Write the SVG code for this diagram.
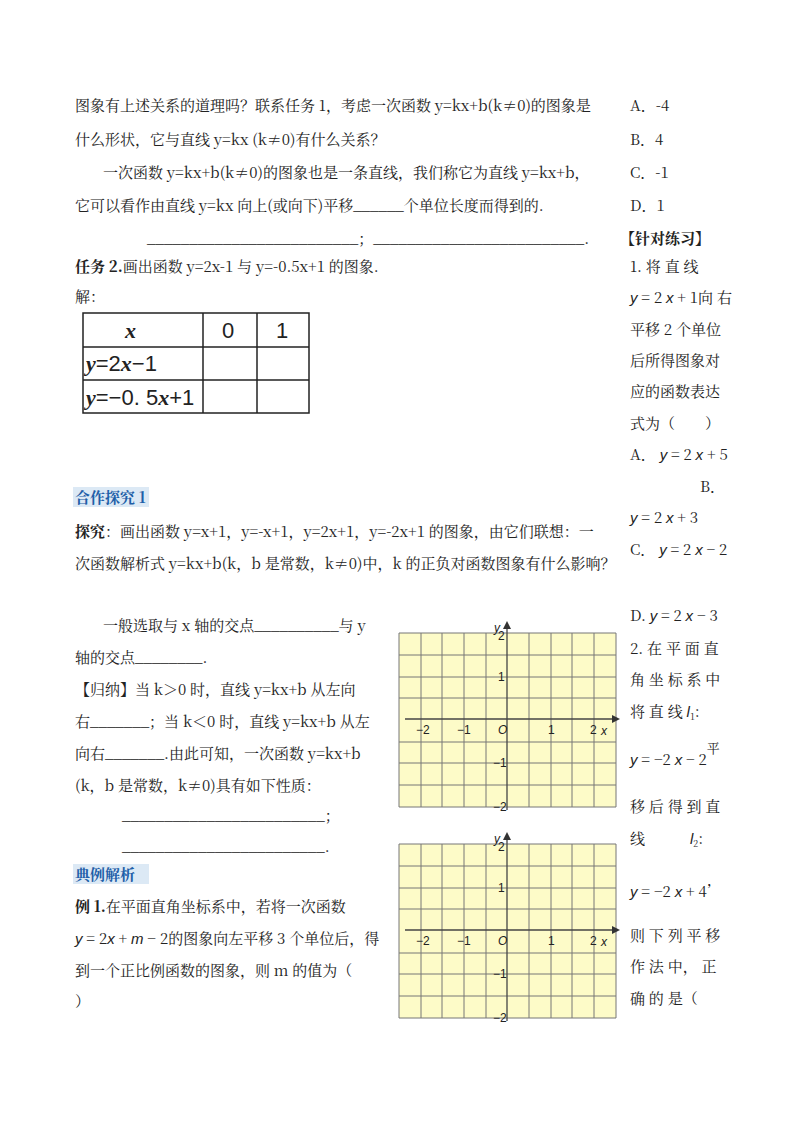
<svg xmlns="http://www.w3.org/2000/svg" width="800" height="1132" viewBox="0 0 800 1132">
<style>
text{font-family:"Noto Serif CJK SC","Noto Sans CJK SC",serif;font-size:15px;fill:#222}
.b{font-weight:bold}
.h{font-weight:bold;fill:#1f5fa8}
.m{font-family:"Liberation Serif",serif;font-style:italic;font-weight:bold;font-size:22px}
.n{font-family:"Liberation Sans",sans-serif;font-style:normal;font-weight:normal;font-size:22px}
.mi{font-family:"Liberation Sans",sans-serif;font-style:italic}
.g{stroke:#777;stroke-width:1}
.ax{font-family:"Liberation Sans",sans-serif;font-size:12px}
</style>
<rect width="800" height="1132" fill="#fff"/>
<text x="75" y="111">图象有上述关系的道理吗？联系任务 1，考虑一次函数 y=kx+b(k≠0)的图象是</text>
<text x="75" y="145">什么形状，它与直线 y=kx  (k≠0)有什么关系？</text>
<text x="103" y="178">一次函数 y=kx+b(k≠0)的图象也是一条直线，我们称它为直线 y=kx+b，</text>
<text x="75" y="211">它可以看作由直线 y=kx 向上(或向下)平移______个单位长度而得到的.</text>
<text x="147" y="244">_________________________；_________________________.</text>
<text x="630" y="111">A．-4</text><text x="630" y="145">B．4</text><text x="630" y="178">C．-1</text><text x="630" y="211">D．1</text>
<text x="620" y="244" class="b">【针对练习】</text>
<text x="75" y="272"><tspan class="b">任务 2.</tspan>画出函数 y=2x-1 与 y=-0.5x+1 的图象.</text>
<text x="75" y="302">解：</text>
<g fill="none" stroke="#222" stroke-width="1.5">
<rect x="83" y="313" width="226" height="100"/>
<line x1="83" y1="347" x2="309" y2="347"/><line x1="83" y1="380" x2="309" y2="380"/>
<line x1="203" y1="313" x2="203" y2="413"/><line x1="257" y1="313" x2="257" y2="413"/>
</g>
<text x="125" y="338" class="m">x</text>
<text x="222" y="338" class="n">0</text>
<text x="276" y="338" class="n">1</text>
<text x="86" y="371" class="m">y<tspan class="n">=2</tspan>x<tspan class="n">−1</tspan></text>
<text x="86" y="405" class="m">y<tspan class="n">=−0. 5</tspan>x<tspan class="n">+1</tspan></text>
<rect x="73" y="487" width="76" height="20" fill="#dce9f5"/>
<text x="75" y="503" class="h">合作探究 1</text>
<text x="75" y="537"><tspan class="b">探究</tspan>：画出函数 y=x+1，y=-x+1，y=2x+1，y=-2x+1 的图象，由它们联想：一</text>
<text x="75" y="569">次函数解析式 y=kx+b(k，b 是常数，k≠0)中，k 的正负对函数图象有什么影响？</text>
<text x="103" y="631">一般选取与 x 轴的交点__________与 y</text>
<text x="75" y="663">轴的交点________.</text>
<text x="75" y="695">【归纳】当 k＞0 时，直线 y=kx+b 从左向</text>
<text x="75" y="727">右_______；当 k＜0 时，直线 y=kx+b 从左</text>
<text x="75" y="759">向右_______.由此可知，一次函数 y=kx+b</text>
<text x="75" y="791">(k，b 是常数，k≠0)具有如下性质：</text>
<text x="122" y="821">________________________；</text>
<text x="122" y="852">________________________.</text>
<rect x="73" y="864" width="76" height="20" fill="#dce9f5"/>
<text x="75" y="880" class="h">典例解析</text>
<text x="75" y="912"><tspan class="b">例 1.</tspan>在平面直角坐标系中，若将一次函数</text>
<text x="75" y="944"><tspan class="mi">y</tspan> = 2<tspan class="mi">x</tspan> + <tspan class="mi">m</tspan> − 2的图象向左平移 3 个单位后，得</text>
<text x="75" y="976">到一个正比例函数的图象，则 m 的值为（</text>
<text x="75" y="1007">）</text>
<text x="630" y="272">1. 将 直 线</text>
<text x="630" y="303"><tspan class="mi">y</tspan> = 2 <tspan class="mi">x</tspan> + 1向 右</text>
<text x="630" y="335">平移 2 个单位</text>
<text x="630" y="366">后所得图象对</text>
<text x="630" y="397">应的函数表达</text>
<text x="630" y="429">式为（　　）</text>
<text x="630" y="460">A．  <tspan class="mi">y</tspan> = 2 <tspan class="mi">x</tspan> + 5</text>
<text x="700" y="492">B．</text>
<text x="630" y="523"><tspan class="mi">y</tspan> = 2 <tspan class="mi">x</tspan> + 3</text>
<text x="630" y="555">C．  <tspan class="mi">y</tspan> = 2 <tspan class="mi">x</tspan> − 2</text>
<text x="630" y="621">D. <tspan class="mi">y</tspan> = 2 <tspan class="mi">x</tspan> − 3</text>
<text x="630" y="654">2. 在 平 面 直</text>
<text x="630" y="685">角 坐 标 系 中</text>
<text x="630" y="717">将 直 线 <tspan class="mi">l</tspan><tspan font-size="9" dy="3">1</tspan><tspan dy="-3">:</tspan></text>
<text x="630" y="765"><tspan class="mi">y</tspan> = −2 <tspan class="mi">x</tspan> − 2<tspan font-size="13" dy="-12">平</tspan></text>
<text x="630" y="812">移 后 得 到 直</text>
<text x="630" y="844">线　　　<tspan class="mi">l</tspan><tspan font-size="9" dy="3">2</tspan><tspan dy="-3">:</tspan></text>
<text x="630" y="897"><tspan class="mi">y</tspan> = −2 <tspan class="mi">x</tspan> + 4’</text>
<text x="630" y="941">则 下 列 平 移</text>
<text x="630" y="972">作 法 中， 正</text>
<text x="630" y="1004">确 的 是（</text>
<defs>
<g id="grid">
<rect x="399" y="633" width="217" height="174" fill="#fdfbc8"/>
<g class="g">
<line x1="399" y1="633" x2="616" y2="633"/><line x1="399" y1="655" x2="616" y2="655"/><line x1="399" y1="677" x2="616" y2="677"/><line x1="399" y1="698" x2="616" y2="698"/><line x1="399" y1="742" x2="616" y2="742"/><line x1="399" y1="763" x2="616" y2="763"/><line x1="399" y1="785" x2="616" y2="785"/><line x1="399" y1="807" x2="616" y2="807"/>
<line x1="399" y1="633" x2="399" y2="807"/><line x1="421" y1="633" x2="421" y2="807"/><line x1="442" y1="633" x2="442" y2="807"/><line x1="464" y1="633" x2="464" y2="807"/><line x1="486" y1="633" x2="486" y2="807"/><line x1="529" y1="633" x2="529" y2="807"/><line x1="551" y1="633" x2="551" y2="807"/><line x1="572" y1="633" x2="572" y2="807"/><line x1="594" y1="633" x2="594" y2="807"/><line x1="616" y1="633" x2="616" y2="807"/>
</g>
<line x1="405" y1="719" x2="612" y2="719" stroke="#444" stroke-width="1.3"/>
<path d="M612 715 L620 719 L612 723Z" fill="#333"/>
<line x1="507" y1="810" x2="507" y2="628" stroke="#444" stroke-width="1.3"/>
<path d="M503 629 L507 621 L511 629Z" fill="#333"/>
<text x="416" y="734" class="ax">−2</text><text x="457" y="734" class="ax">−1</text>
<text x="548" y="734" class="ax">1</text><text x="590" y="734" class="ax">2</text>
<text x="498" y="734" class="ax" font-style="italic" font-family="Liberation Serif" font-size="14">O</text>
<text x="601" y="735" class="ax" font-style="italic" font-family="Liberation Serif" font-size="16">x</text>
<text x="494" y="632" class="ax" font-style="italic" font-family="Liberation Serif" font-size="16">y</text>
<text x="498" y="640" class="ax">2</text><text x="498" y="681" class="ax">1</text>
<text x="493" y="767" class="ax">−1</text><text x="493" y="811" class="ax">−2</text>
</g>
</defs>
<use href="#grid"/>
<use href="#grid" transform="translate(0,211)"/>
</svg>
